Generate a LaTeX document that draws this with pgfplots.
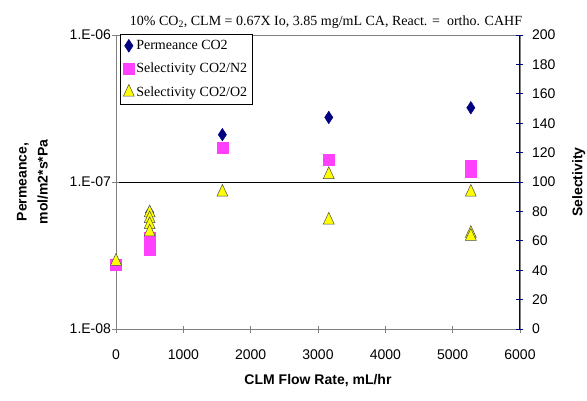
\documentclass[border=0pt]{standalone}
\usepackage{fontspec}
\setmainfont{Liberation Sans}
\newfontfamily\timesf{Liberation Serif}
\usepackage{pgfplots}
\pgfplotsset{compat=1.18}
\definecolor{navyd}{RGB}{0,0,128}
\definecolor{pinkm}{RGB}{255,64,255}
\definecolor{yellowt}{RGB}{255,255,0}
\definecolor{axgray}{RGB}{128,128,128}

\pgfplotsset{
  common/.style={
    width=404pt, height=294pt, scale only axis,
    xmin=0, xmax=6000, xtick={0,1000,...,6000},
    tick align=center, major tick length=7pt, minor tick length=0pt,
    tick label style={font=\fontsize{14}{16}\selectfont},
    label style={font=\bfseries\fontsize{14}{21}\selectfont},
    /pgf/number format/assume math mode=true,
    /pgf/number format/set thousands separator={},
  },
  diam/.style={only marks, mark=diamond*, mark size=5.5pt, mark options={draw=navyd, fill=navyd, yscale=1.15}},
  sq/.style={only marks, mark=square*, mark size=5.5pt, mark options={draw=pinkm, fill=pinkm}},
  tri/.style={only marks, mark=triangle*, mark size=6.3pt, mark options={draw=black!70, fill=yellowt, line width=0.5pt, yscale=1.25}},
}

\begin{document}
\begin{tikzpicture}
\begin{axis}[common,
  ymode=log, ymin=1e-8, ymax=1e-6,
  ytick={1e-8,1e-7,1e-6}, yticklabels={1.E-08,1.E-07,1.E-06},
  xtick pos=left, ytick pos=left,
  axis line style={axgray, line width=0.8pt},
  tick style={axgray, line width=0.8pt},
  ymajorgrids, grid style={black, line width=1pt},
  xticklabel shift=14pt, yticklabel shift=-2pt,
  xlabel={CLM Flow Rate, mL/hr},
  xlabel style={yshift=-8pt},
  ylabel={Permeance,\\mol/m2*s*Pa}, ylabel style={align=center, yshift=15pt},
  title={10\% CO\textsubscript{2}, CLM = 0.67X Io, 3.85 mg/mL CA, React. =~~ortho. CAHF},
  title style={font=\timesf\fontsize{14}{16}\selectfont, xshift=8pt, yshift=-3pt},
]
\coordinate (O) at (rel axis cs:0,0);
\addplot[diam] coordinates {(0,2.8e-8) (500,6.2e-8) (1580,2.1e-7) (3160,2.75e-7) (5270,3.2e-7)};
\end{axis}
\begin{axis}[common,
  ymin=0, ymax=200, ytick={0,20,...,200},
  axis y line*=right, axis x line=none,
  y axis line style={navyd, line width=1pt},
  ytick style={navyd, line width=0.8pt},
  yticklabel shift=5pt,
  ylabel={Selectivity}, ylabel style={yshift=-10pt},
  legend style={at={(rel axis cs:0.01,1.003)}, anchor=north west, draw=black, line width=0.6pt,
    font=\timesf\fontsize{14}{16}\selectfont, inner xsep=3pt, inner ysep=4pt, row sep=8pt},
  legend cell align=left,
  legend image code/.code={\draw[#1] plot coordinates {(0pt,0pt)};},
]
\addlegendimage{diam}
\addplot[sq] coordinates {(0,43.5) (500,54) (500,58) (500,62) (1580,123) (3160,115.5) (5270,111) (5270,107)};
\addplot[tri] coordinates {(0,46) (500,79) (500,75) (500,71) (500,66) (1580,93) (3160,105) (3160,74) (5270,93) (5270,65) (5270,63)};
\legend{Permeance CO2, Selectivity CO2/N2, Selectivity CO2/O2}
\end{axis}
\pgfresetboundingbox
\path[use as bounding box] ([shift={(-116pt,-71pt)}]O) rectangle ++(587pt,400pt);
\end{tikzpicture}
\end{document}
